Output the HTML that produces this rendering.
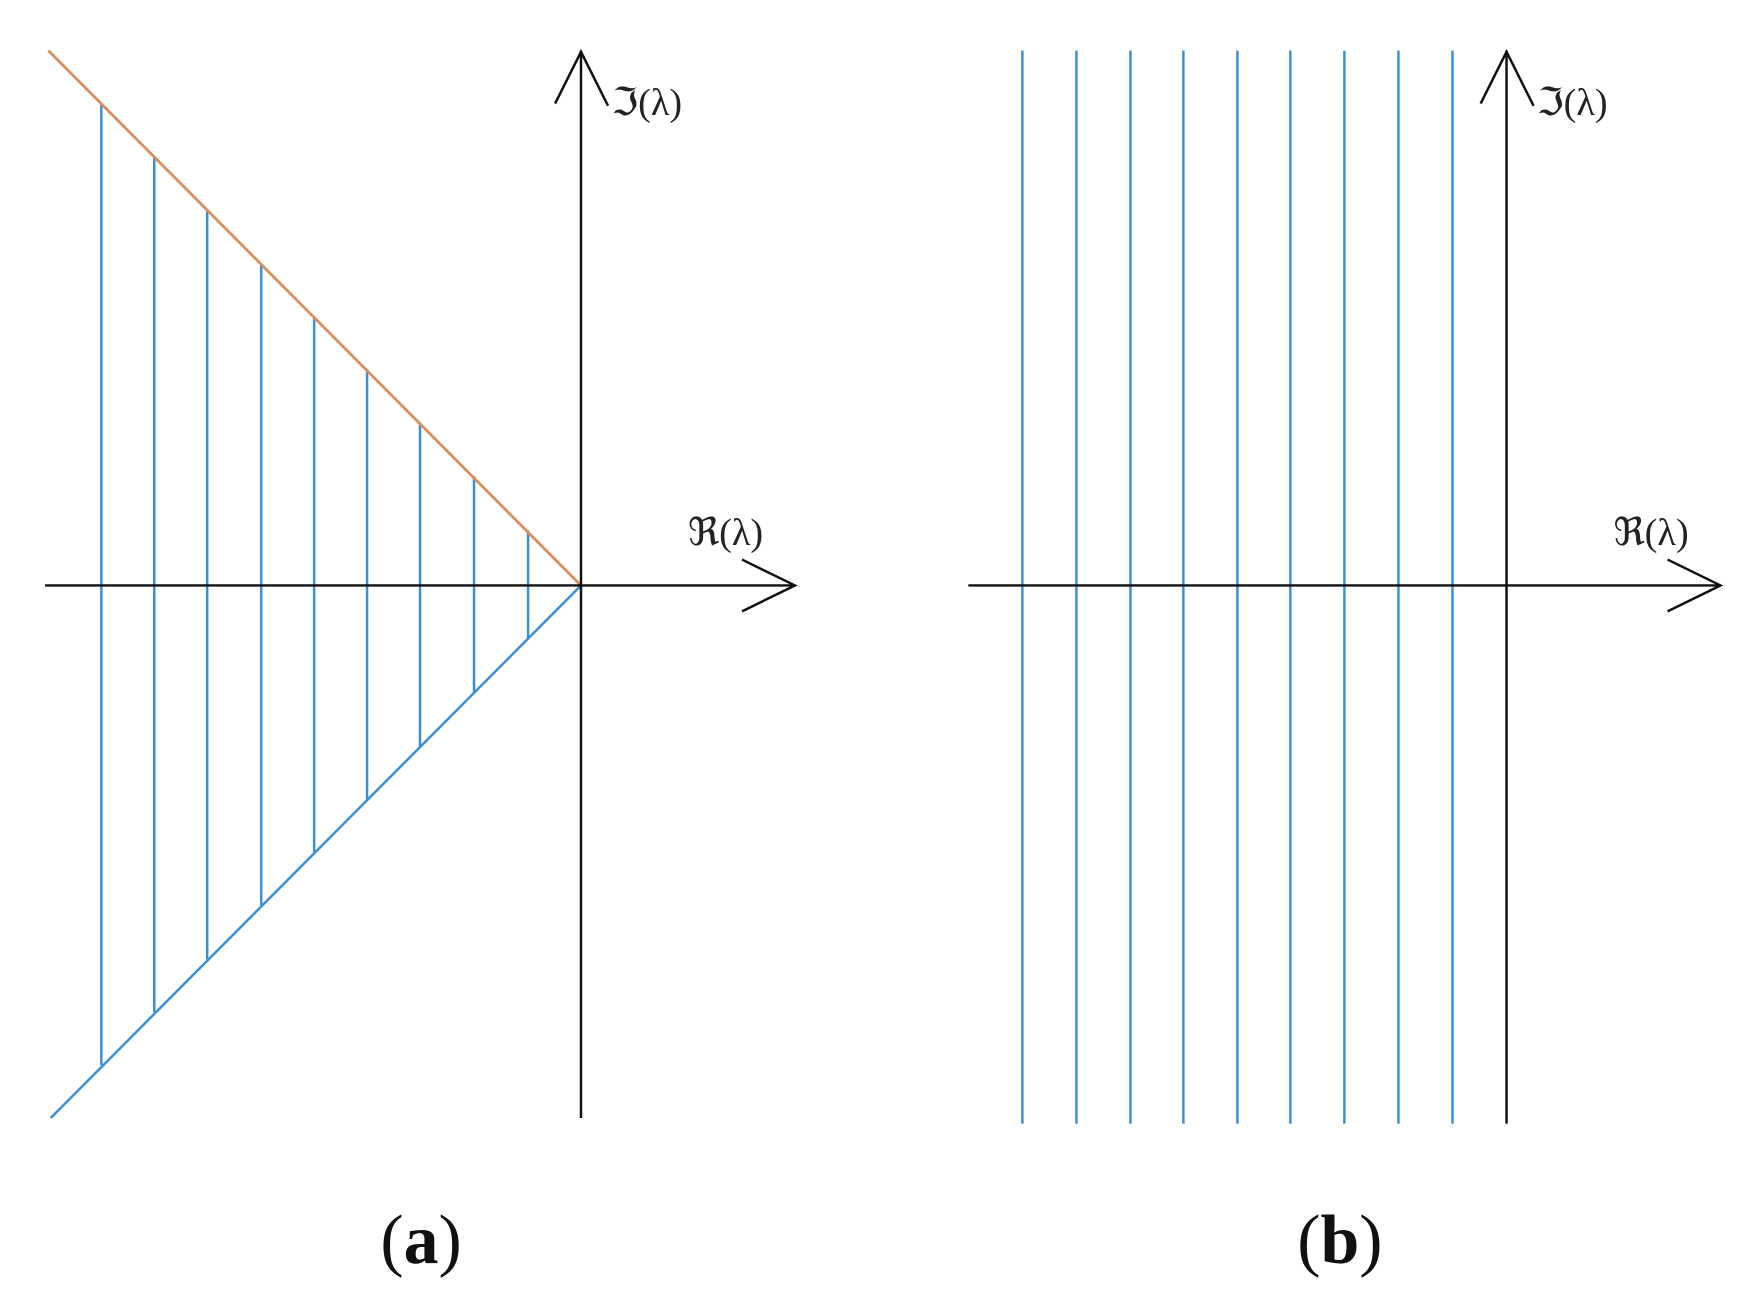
<!DOCTYPE html>
<html><head><style>html,body{margin:0;padding:0;background:#fff}svg{display:block}</style></head><body>
<svg width="1761" height="1315" viewBox="0 0 1564 1168" preserveAspectRatio="none" xmlns="http://www.w3.org/2000/svg">
<g stroke="#3a8fd6" stroke-width="2.2">
<line x1="90" y1="92" x2="90" y2="946"/>
<line x1="137" y1="139" x2="137" y2="899"/>
<line x1="184" y1="186" x2="184" y2="852"/>
<line x1="232" y1="234" x2="232" y2="804"/>
<line x1="279" y1="281" x2="279" y2="757"/>
<line x1="326" y1="328" x2="326" y2="710"/>
<line x1="373" y1="375" x2="373" y2="663"/>
<line x1="421" y1="423" x2="421" y2="615"/>
<line x1="469" y1="471" x2="469" y2="567"/>
<line x1="45" y1="993" x2="516" y2="520"/>
<line x1="908" y1="45" x2="908" y2="998"/>
<line x1="956" y1="45" x2="956" y2="998"/>
<line x1="1004" y1="45" x2="1004" y2="998"/>
<line x1="1051" y1="45" x2="1051" y2="998"/>
<line x1="1099" y1="45" x2="1099" y2="998"/>
<line x1="1146" y1="45" x2="1146" y2="998"/>
<line x1="1194" y1="45" x2="1194" y2="998"/>
<line x1="1242" y1="45" x2="1242" y2="998"/>
<line x1="1290" y1="45" x2="1290" y2="998"/>
</g>
<line x1="43" y1="45" x2="516" y2="520" stroke="#d9905e" stroke-width="2.5"/>
<g stroke="#111" stroke-width="2.2" fill="none">
<line x1="516" y1="45" x2="516" y2="993"/>
<line x1="40" y1="520" x2="706" y2="520"/>
<polyline points="493,92 516,46 540,94"/>
<polyline points="659,497 706,520 659,543"/>
<line x1="1338" y1="45" x2="1338" y2="998"/>
<line x1="860" y1="520" x2="1528" y2="520"/>
<polyline points="1315,92 1338,46 1362,94"/>
<polyline points="1481,497 1528,520 1481,543"/>
</g>
<g font-family="Liberation Serif, serif" font-size="34" fill="#222">
<text x="543" y="102">ℑ(λ)</text>
<text x="611" y="484">ℜ(λ)</text>
<text x="1365" y="102">ℑ(λ)</text>
<text x="1433" y="484">ℜ(λ)</text>
</g>
<g font-family="Liberation Serif, serif" font-size="62" fill="#111" text-anchor="middle">
<text x="374" y="1122">(<tspan font-weight="bold">a</tspan>)</text>
<text x="1190" y="1122">(<tspan font-weight="bold">b</tspan>)</text>
</g>
</svg>
</body></html>
